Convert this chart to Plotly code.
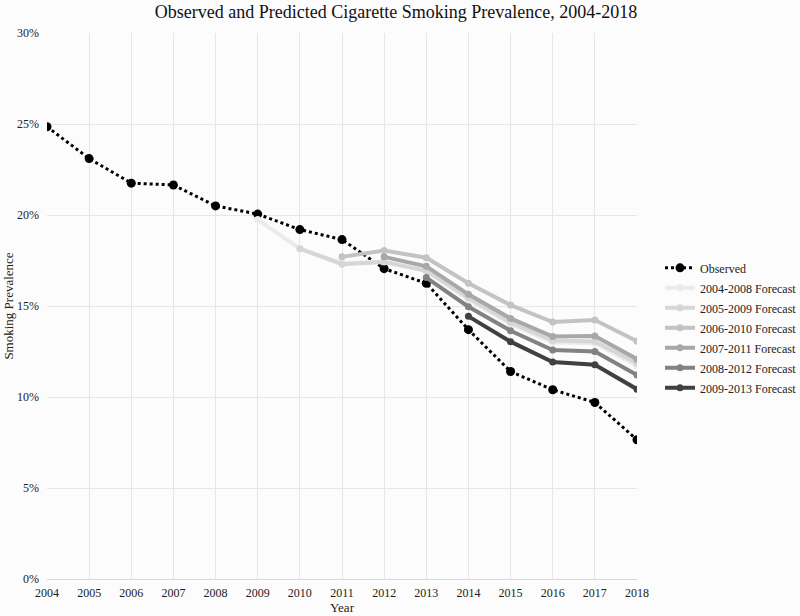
import plotly.graph_objects as go

years = list(range(2004, 2019))

observed = [24.85, 23.1, 21.75, 21.65, 20.5, 20.05, 19.2, 18.65, 17.05, 16.25,
            13.7, 11.4, 10.4, 9.7, 7.65]

# each forecast starts the year after its fitting window ends
fc_names = ["2004-2008 Forecast", "2005-2009 Forecast", "2006-2010 Forecast",
            "2007-2011 Forecast", "2008-2012 Forecast", "2009-2013 Forecast"]
fc_years = [list(range(2009, 2019)), list(range(2010, 2019)), list(range(2011, 2019)),
            list(range(2012, 2019)), list(range(2013, 2019)), list(range(2014, 2019))]
fc_values = [
    [19.75, 18.15, 17.35, 17.45, 16.9, 15.35, 14.0, 13.0, 12.95, 11.7],
    [18.15, 17.3, 17.42, 16.95, 15.45, 14.1, 13.1, 13.05, 11.85],
    [17.7, 18.05, 17.65, 16.25, 15.05, 14.12, 14.23, 13.06],
    [17.7, 17.18, 15.64, 14.32, 13.32, 13.35, 12.08],
    [16.56, 14.96, 13.64, 12.58, 12.5, 11.21],
    [14.43, 13.04, 11.92, 11.77, 10.43],
]
fc_colors = ["#ebebeb", "#d6d6d6", "#c3c3c3", "#a8a8a8", "#828282", "#404040"]

font = "Liberation Serif, Times New Roman, serif"

fig = go.Figure()
fig.add_trace(go.Scatter(x=years, y=observed, name="Observed", mode="lines+markers",
                         legendgroup="obs",
                         line=dict(color="black", width=3, dash="dot"),
                         marker=dict(color="black", size=9)))
for name, xs, ys, c in zip(fc_names, fc_years, fc_values, fc_colors):
    fig.add_trace(go.Scatter(x=xs, y=ys, name=name, mode="lines+markers",
                             legendgroup=name,
                             line=dict(color=c, width=4),
                             marker=dict(color=c, size=7)))

fig.update_layout(
    width=800, height=616,
    margin=dict(l=47, r=163, t=33, b=37, autoexpand=False),
    paper_bgcolor="#fcfcfc", plot_bgcolor="#fcfcfc",
    font=dict(family=font, size=12, color="#222"),
    title=dict(text="Observed and Predicted Cigarette Smoking Prevalence, 2004-2018",
               x=0.495, xref="container", xanchor="center",
               y=0.992, yanchor="top",
               font=dict(family=font, size=18, color="#111")),
    xaxis=dict(title=dict(text="Year", standoff=2, font=dict(size=13)),
               range=[2004, 2018], dtick=1, tick0=2004, ticklabelstandoff=3,
               showgrid=True, gridcolor="#e6e6e6", zeroline=False,
               showline=True, linecolor="#d9d9d9", ticks="", automargin=False),
    yaxis=dict(title=dict(text="Smoking Prevalence", standoff=0, font=dict(size=13)),
               range=[0, 30], dtick=5, ticksuffix="%", ticklabelstandoff=7,
               showgrid=True, gridcolor="#e6e6e6", zeroline=False,
               showline=False, ticks="", automargin=False),
    legend=dict(x=1.039, xanchor="left", y=0.46, yanchor="middle",
                bgcolor="rgba(0,0,0,0)", font=dict(size=12),
                tracegroupgap=1),
)

# drop the page's default body margin so the figure sits at the window's corner
fig.write_html("out.html", config={"displayModeBar": False},
               post_script="document.body.style.margin='0';")
